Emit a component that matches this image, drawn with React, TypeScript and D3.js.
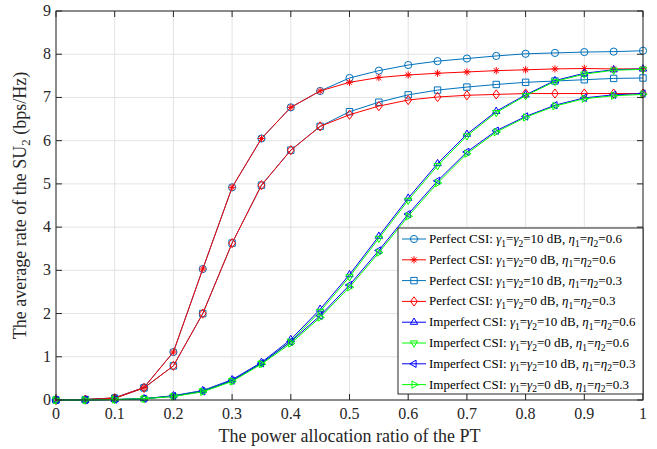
import React from "react";
import * as d3 from "d3";

const xValues = [0, 0.05, 0.1, 0.15, 0.2, 0.25, 0.3, 0.35, 0.4, 0.45, 0.5, 0.55, 0.6, 0.65, 0.7, 0.75, 0.8, 0.85, 0.9, 0.95, 1];
const perfect10_06 = [0, 0.01, 0.05, 0.29, 1.11, 3.03, 4.92, 6.05, 6.77, 7.15, 7.45, 7.62, 7.75, 7.84, 7.9, 7.96, 8.01, 8.03, 8.05, 8.06, 8.08];
const perfect0_06 = [0, 0.01, 0.05, 0.29, 1.11, 3.03, 4.92, 6.05, 6.77, 7.15, 7.35, 7.46, 7.52, 7.56, 7.59, 7.62, 7.64, 7.66, 7.67, 7.66, 7.66];
const perfect10_03 = [0, 0.01, 0.04, 0.28, 0.79, 2.0, 3.63, 4.97, 5.78, 6.33, 6.67, 6.89, 7.06, 7.17, 7.24, 7.3, 7.35, 7.38, 7.41, 7.44, 7.45];
const perfect0_03 = [0, 0.01, 0.04, 0.28, 0.79, 2.0, 3.63, 4.97, 5.78, 6.33, 6.6, 6.8, 6.94, 7.01, 7.05, 7.07, 7.09, 7.09, 7.09, 7.09, 7.09];
const imperfect10_06 = [0, 0, 0.01, 0.03, 0.1, 0.22, 0.47, 0.87, 1.4, 2.1, 2.9, 3.79, 4.67, 5.47, 6.15, 6.68, 7.06, 7.39, 7.56, 7.64, 7.66];
const imperfect0_06 = [0, 0, 0.01, 0.03, 0.09, 0.21, 0.45, 0.85, 1.36, 2.05, 2.85, 3.74, 4.62, 5.42, 6.11, 6.65, 7.04, 7.37, 7.54, 7.63, 7.65];
const imperfect10_03 = [0, 0, 0.01, 0.03, 0.09, 0.2, 0.45, 0.85, 1.35, 1.95, 2.66, 3.46, 4.3, 5.07, 5.74, 6.23, 6.56, 6.82, 6.99, 7.06, 7.09];
const imperfect0_03 = [0, 0, 0.01, 0.03, 0.08, 0.19, 0.43, 0.83, 1.31, 1.91, 2.61, 3.41, 4.25, 5.02, 5.7, 6.2, 6.54, 6.8, 6.97, 7.04, 7.07];

const xTicks = [0, 0.1, 0.2, 0.3, 0.4, 0.5, 0.6, 0.7, 0.8, 0.9, 1];
const yTicks = [0, 1, 2, 3, 4, 5, 6, 7, 8, 9];

type Series = { csi: string; gamma: string; eta: string; values: number[]; color: string; marker: string };
const seriesList: Series[] = [
  { csi: "Perfect CSI", gamma: "10", eta: "0.6", values: perfect10_06, color: "#0072BD", marker: "circle" },
  { csi: "Perfect CSI", gamma: "0", eta: "0.6", values: perfect0_06, color: "#FF0000", marker: "asterisk" },
  { csi: "Perfect CSI", gamma: "10", eta: "0.3", values: perfect10_03, color: "#0072BD", marker: "square" },
  { csi: "Perfect CSI", gamma: "0", eta: "0.3", values: perfect0_03, color: "#FF0000", marker: "diamond" },
  { csi: "Imperfect CSI", gamma: "10", eta: "0.6", values: imperfect10_06, color: "#0000FF", marker: "triUp" },
  { csi: "Imperfect CSI", gamma: "0", eta: "0.6", values: imperfect0_06, color: "#00FF00", marker: "triDown" },
  { csi: "Imperfect CSI", gamma: "10", eta: "0.3", values: imperfect10_03, color: "#0000FF", marker: "triLeft" },
  { csi: "Imperfect CSI", gamma: "0", eta: "0.3", values: imperfect0_03, color: "#00FF00", marker: "triRight" },
];

function markerPath(type: string, cx: number, cy: number): string {
  const r = 3.6;
  switch (type) {
    case "circle":
      return `M${cx + r},${cy} A${r},${r} 0 1,1 ${cx - r},${cy} A${r},${r} 0 1,1 ${cx + r},${cy} Z`;
    case "square": {
      const s = 3.2;
      return `M${cx - s},${cy - s} H${cx + s} V${cy + s} H${cx - s} Z`;
    }
    case "diamond": {
      const h = 4.6, w = 3.4;
      return `M${cx},${cy - h} L${cx + w},${cy} L${cx},${cy + h} L${cx - w},${cy} Z`;
    }
    case "asterisk": {
      const a = 3.6, d = a * 0.707;
      return `M${cx - a},${cy} H${cx + a} M${cx},${cy - a} V${cy + a} M${cx - d},${cy - d} L${cx + d},${cy + d} M${cx - d},${cy + d} L${cx + d},${cy - d}`;
    }
    case "triUp": {
      const t = 4.2;
      return `M${cx},${cy - t} L${cx + t * 0.87},${cy + t * 0.5} L${cx - t * 0.87},${cy + t * 0.5} Z`;
    }
    case "triDown": {
      const t = 4.2;
      return `M${cx},${cy + t} L${cx + t * 0.87},${cy - t * 0.5} L${cx - t * 0.87},${cy - t * 0.5} Z`;
    }
    case "triLeft": {
      const t = 4.2;
      return `M${cx - t},${cy} L${cx + t * 0.5},${cy - t * 0.87} L${cx + t * 0.5},${cy + t * 0.87} Z`;
    }
    case "triRight": {
      const t = 4.2;
      return `M${cx + t},${cy} L${cx - t * 0.5},${cy - t * 0.87} L${cx - t * 0.5},${cy + t * 0.87} Z`;
    }
  }
  return "";
}

const W = 657, H = 449;
const M = { left: 56, right: 643, top: 11, bottom: 400 };
const FONT = "Liberation Serif, Times New Roman, serif";

export default function App() {
  const x = d3.scaleLinear().domain([0, 1]).range([M.left, M.right]);
  const y = d3.scaleLinear().domain([0, 9]).range([M.bottom, M.top]);
  const line = d3.line<number>().x((_, i) => x(xValues[i])).y((d) => y(d));

  const legX = 398, legY = 228, legW = M.right - legX, legH = 166, rowH = 20.8;

  return (
    <svg width={W} height={H} style={{ position: "absolute", left: 0, top: 0, background: "#fff", fontFamily: FONT }}>
      <rect x={0} y={0} width={W} height={H} fill="#fff" />
      {xTicks.map((t) => (
        <line key={"gx" + t} x1={x(t)} x2={x(t)} y1={M.top} y2={M.bottom} stroke="#e3e3e3" strokeWidth={1} />
      ))}
      {yTicks.map((t) => (
        <line key={"gy" + t} x1={M.left} x2={M.right} y1={y(t)} y2={y(t)} stroke="#e3e3e3" strokeWidth={1} />
      ))}
      {seriesList.map((s, si) => (
        <g key={"s" + si}>
          <path d={line(s.values) || ""} fill="none" stroke={s.color} strokeWidth={1} />
          {s.values.map((v, i) => (
            <path key={i} d={markerPath(s.marker, x(xValues[i]), y(v))} fill="none" stroke={s.color} strokeWidth={1} />
          ))}
        </g>
      ))}
      <rect x={M.left} y={M.top} width={M.right - M.left} height={M.bottom - M.top} fill="none" stroke="#262626" strokeWidth={1} />
      {xTicks.map((t) => (
        <g key={"tx" + t}>
          <line x1={x(t)} x2={x(t)} y1={M.bottom} y2={M.bottom - 6} stroke="#262626" />
          <line x1={x(t)} x2={x(t)} y1={M.top} y2={M.top + 6} stroke="#262626" />
          <text x={x(t)} y={M.bottom + 19} textAnchor="middle" fontSize={16} fill="#262626" style={{ fontFamily: FONT }}>{String(t)}</text>
        </g>
      ))}
      {yTicks.map((t) => (
        <g key={"ty" + t}>
          <line x1={M.left} x2={M.left + 6} y1={y(t)} y2={y(t)} stroke="#262626" />
          <line x1={M.right} x2={M.right - 6} y1={y(t)} y2={y(t)} stroke="#262626" />
          <text x={M.left - 5} y={y(t) + 5} textAnchor="end" fontSize={16} fill="#262626" style={{ fontFamily: FONT }}>{String(t)}</text>
        </g>
      ))}
      <text x={(M.left + M.right) / 2} y={442} textAnchor="middle" fontSize={18} fill="#262626" style={{ fontFamily: FONT }}>The power allocation ratio of the PT</text>
      <text transform={`translate(26,${(M.top + M.bottom) / 2}) rotate(-90)`} textAnchor="middle" fontSize={18} fill="#262626" style={{ fontFamily: FONT }}>
        The average rate of the SU<tspan fontSize={13} dy={4}>2</tspan><tspan dy={-4}> (bps/Hz)</tspan>
      </text>
      <rect x={legX} y={legY} width={legW} height={legH} fill="#fff" stroke="#262626" strokeWidth={1} />
      {seriesList.map((s, i) => {
        const cy = legY + 11 + i * rowH;
        return (
          <g key={"l" + i}>
            <line x1={legX + 4} x2={legX + 28} y1={cy} y2={cy} stroke={s.color} strokeWidth={1} />
            <path d={markerPath(s.marker, legX + 16, cy)} fill="none" stroke={s.color} strokeWidth={1} />
            <text x={legX + 31} y={cy + 4} fontSize={13} fill="#000" style={{ fontFamily: FONT }}>
              {s.csi}: <tspan fontStyle="italic">γ</tspan>
              <tspan fontSize={9.5} dy={3.5}>1</tspan>
              <tspan dy={-3.5}>=</tspan>
              <tspan fontStyle="italic">γ</tspan>
              <tspan fontSize={9.5} dy={3.5}>2</tspan>
              <tspan dy={-3.5}>={s.gamma} dB, </tspan>
              <tspan fontStyle="italic">η</tspan>
              <tspan fontSize={9.5} dy={3.5}>1</tspan>
              <tspan dy={-3.5}>=</tspan>
              <tspan fontStyle="italic">η</tspan>
              <tspan fontSize={9.5} dy={3.5}>2</tspan>
              <tspan dy={-3.5}>={s.eta}</tspan>
            </text>
          </g>
        );
      })}
    </svg>
  );
}
